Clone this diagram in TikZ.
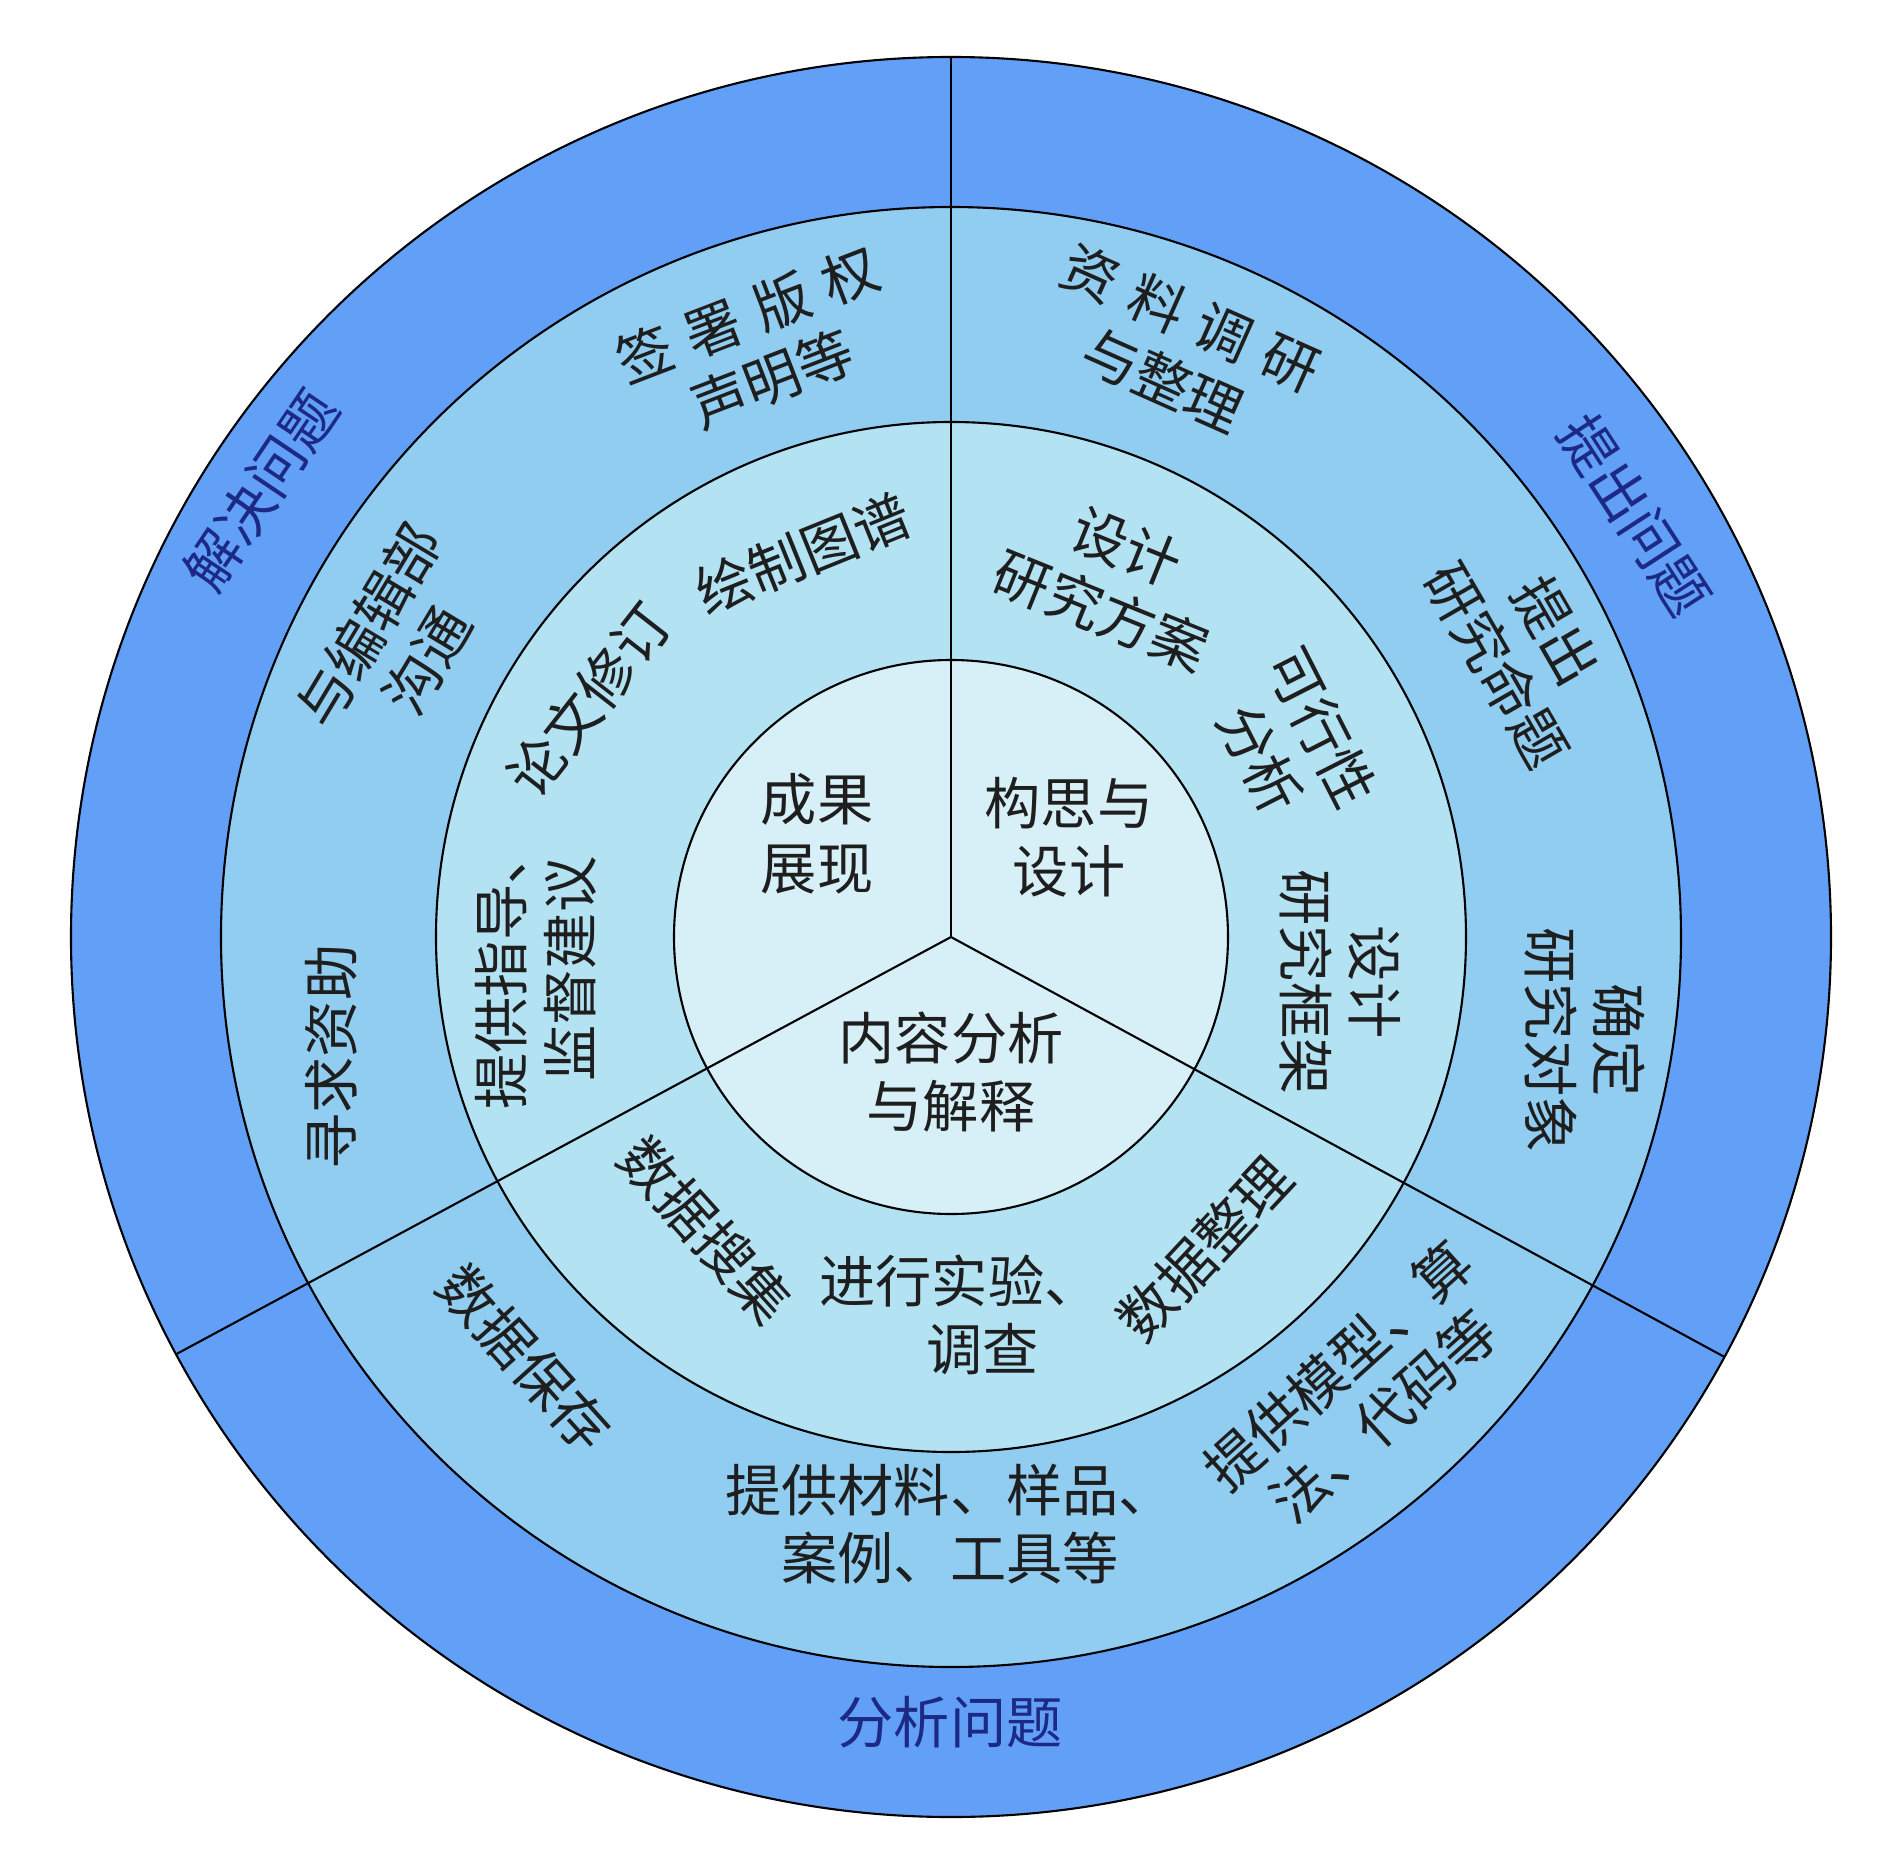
\documentclass[tikz,border=0pt]{standalone}
\usepackage{fontspec}
\newfontfamily\cjk{Noto Sans CJK SC}
\definecolor{outerblue}{HTML}{62A0F8}
\definecolor{midblue}{HTML}{90CDF0}
\definecolor{lightblue}{HTML}{B3E2F3}
\definecolor{paleblue}{HTML}{D7EFF7}
\definecolor{navy}{HTML}{1C2A86}
\definecolor{ink}{HTML}{1E1E1E}
\newcommand{\gapsp}{\hspace{0.3em}}
\begin{document}
\begin{tikzpicture}[x=0.02cm,y=0.02cm,
  lab/.style={font=\cjk\fontsize{32pt}{39pt}\selectfont, text=ink, align=center, inner sep=0pt},
  outlab/.style={font=\cjk\fontsize{32pt}{39pt}\selectfont, text=navy, align=center, inner sep=0pt},
  ringline/.style={draw=black, line width=1.2pt},
  sepline/.style={draw=black, line width=1.2pt}]
\useasboundingbox (-951,-923) rectangle (937,937);
\fill[white] (-951,-923) rectangle (937,937);
\coordinate (O) at (0,0);
\draw[ringline, fill=outerblue] (O) circle (880);
\draw[ringline, fill=midblue] (O) circle (730);
\draw[ringline, fill=lightblue] (O) circle (515);
\draw[ringline, fill=paleblue] (O) circle (277);
\coordinate (E1) at (90:880);
\coordinate (E2) at (-28.5:880);
\coordinate (E3) at (208.3:880);
\draw[sepline] (O) -- (E1);
\draw[sepline] (O) -- (E2);
\draw[sepline] (O) -- (E3);
% outer ring labels
\node[outlab, rotate=56] (t1) at (-690,447) {解决问题};
\node[outlab, rotate=-57] (t2) at (684,422) {提出问题};
\node[outlab] (t3) at (-1,-785) {分析问题};
% second ring
\node[lab, rotate=21] (t4) at (-191,590) {签\gapsp 署\gapsp 版\gapsp 权\\声明等};
\node[lab, rotate=-24] (t5) at (226,588) {资\gapsp 料\gapsp 调\gapsp 研\\与整理};
\node[lab, rotate=59] (t6) at (-553,294) {与编辑部\\沟通};
\node[lab, rotate=-60] (t7) at (575,289) {提出\\研究命题};
\node[lab, rotate=90] (t8) at (-620,-120) {寻求资助};
\node[lab, rotate=-90] (t9) at (634,-103) {确定\\研究对象};
\node[lab, rotate=-48] (t10) at (-426,-421) {数据保存};
\node[lab] (t11) at (-1,-587) {提供材料、样品、\\案例、工具等};
\node[lab, rotate=42] (t12) at (410,-454) {提供模型、算\\法、代码等};
% third ring
\node[lab, rotate=22] (t13) at (-148,383) {绘制图谱};
\node[lab, rotate=52] (t14) at (-362,237) {论文修订};
\node[lab, rotate=90] (t15) at (-415,-32) {提供指导、\\监督建议};
\node[lab, rotate=-22] (t16) at (163,358) {设计\\研究方案};
\node[lab, rotate=-63] (t17) at (340,194) {可行性\\分析};
\node[lab, rotate=-90] (t18) at (389,-45) {设计\\研究框架};
\node[lab, rotate=-48] (t19) at (-245,-293) {数据搜集};
\node[lab] (t20) at (9,-378) {进行实验、\\\hspace*{0.8em}调查};
\node[lab, rotate=47] (t21) at (254,-312) {数据整理};
% centre
\node[lab] (t22) at (-134,103) {成果\\展现};
\node[lab] (t23) at (118,100) {构思与\\设计};
\node[lab] (t24) at (0,-135) {内容分析\\与解释};
\end{tikzpicture}
\end{document}
